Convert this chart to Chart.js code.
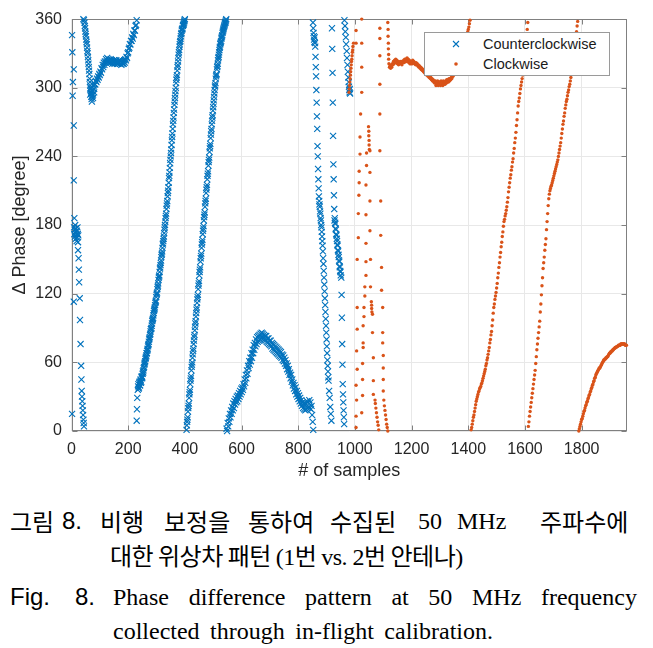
<!DOCTYPE html>
<html>
<head>
<meta charset="utf-8">
<script src="https://cdn.jsdelivr.net/npm/chart.js@4.4.0/dist/chart.umd.min.js"></script>
<style>
html,body{margin:0;padding:0;background:#fff;}
#wrap{position:relative;width:653px;height:648px;overflow:hidden;background:#fff;}
#chart{position:absolute;left:0;top:0;}
#legend{position:absolute;left:424px;top:32px;width:186px;height:44px;background:#fff;border:1px solid #9a9a9a;box-sizing:border-box;font-family:"Liberation Sans",Arial,sans-serif;font-size:14.5px;color:#1a1a1a;}
#legend .row{position:absolute;left:0;height:20px;line-height:20px;}
#legend svg{position:absolute;left:24px;top:3px;}
#legend span{position:absolute;left:58px;white-space:nowrap;}
.line{position:absolute;left:0;width:653px;height:34px;line-height:34px;color:#000;}
.line span{position:absolute;top:0;white-space:nowrap;}
.ko{font-family:"Noto Sans CJK KR","Noto Sans",sans-serif;font-size:24px;}
.se{font-family:"Liberation Serif","DejaVu Serif",serif;font-size:24px;}
.sn{font-family:"Liberation Sans Narrow","Liberation Sans",Arial,sans-serif;font-size:24px;}
.flex{position:absolute;top:0;display:flex;justify-content:space-between;white-space:nowrap;}
</style>
</head>
<body>
<div id="wrap">
  <canvas id="chart" width="653" height="490"></canvas>
  <div id="legend">
    <div class="row" style="top:1px;width:100%;">
      <svg width="14" height="14" viewBox="0 0 14 14"><path d="M4 4 L10 10 M10 4 L4 10" stroke="#0072BD" stroke-width="1.1" fill="none"/></svg>
      <span>Counterclockwise</span>
    </div>
    <div class="row" style="top:21px;width:100%;">
      <svg width="14" height="14" viewBox="0 0 14 14"><circle cx="7" cy="7" r="1.8" fill="#D95319"/></svg>
      <span>Clockwise</span>
    </div>
  </div>
  <div class="line" style="top:504px;">
    <span class="ko" style="left:10px;">그림</span>
    <span class="sn" style="left:62px;">8.</span>
    <span class="ko" style="left:100px;">비행</span>
    <span class="ko" style="left:164px;">보정을</span>
    <span class="ko" style="left:248px;">통하여</span>
    <span class="ko" style="left:330px;">수집된</span>
    <span class="se" style="left:418px;">50</span>
    <span class="se" style="left:457px;">MHz</span>
    <span class="ko" style="left:540px;">주파수에</span>
  </div>
  <div class="line" style="top:538px;">
    <span class="ko" style="left:110px;letter-spacing:-0.5px;">대한 위상차 패턴 <span class="se" style="position:static;">(1</span>번 <span class="se" style="position:static;">vs. 2</span>번 안테나<span class="se" style="position:static;">)</span></span>
  </div>
  <div class="line" style="top:580px;">
    <span class="sn" style="left:10px;">Fig.</span>
    <span class="sn" style="left:75px;">8.</span>
    <div class="flex se" style="left:113px;width:524px;"><span style="position:static">Phase</span><span style="position:static">difference</span><span style="position:static">pattern</span><span style="position:static">at</span><span style="position:static">50</span><span style="position:static">MHz</span><span style="position:static">frequency</span></div>
  </div>
  <div class="line" style="top:614px;">
    <div class="flex se" style="left:113px;width:380px;"><span style="position:static">collected</span><span style="position:static">through</span><span style="position:static">in-flight</span><span style="position:static">calibration.</span></div>
  </div>
</div>
<script>
// ---------------- DATA (samples, degrees) ----------------
const xTickValues = [0, 200, 400, 600, 800, 1000, 1200, 1400, 1600, 1800];
const yTickValues = [0, 60, 120, 180, 240, 300, 360];
const X_MAX = 1960;
const Y_MAX = 360;

// Counterclockwise (blue x)
const ccwNoise = [[2,346],[3,331],[8,316],[5,305],[4,293],[8,267],[8,219],[10,186],[2,15],[8,113]];
const ccwCluster = [[9,178],[10,172],[11,176],[12,170],[13,180],[14,174],[15,168],[16,177],[17,172],[18,166],[19,175],[20,169],[21,178],[22,172],[23,165],[24,171]];
const ccwDrop = [[23,158],[25,151],[26,141],[27,130],[29,116],[30,97],[32,76],[34,57],[35,45],[36,35],[37,30],[38,26],[39,22],[40,18],[41,14],[42,10],[43,7],[44,4]];
const ccwArm = [[42,360],[44,359],[46,357],[47,354],[48,352],[49,349],[50,347],[51,345],[52,342],[53,340],[54,338],[55,335],[56,332],[57,330],[58,327],[59,324],[60,321],[61,318],[62,315],[63,312],[64,308],[65,305],[66,302],[67,300],[68,297],[69,295],[70,292],[71,290],[66,294],[68,299],[70,295],[74,297],[76,291],[78,302],[80,296]];
// evenly read runs: [first sample, sample spacing]
const ccwPlateauRun = [72, 2];
const ccwPlateau = [288,293,294,299,299,303,303,306,305,308,307,310,309,312,311,314,313,317,316,320,318,322,320,323,322,325,323,326,323,325,322,324,322,325,322,324,321,323,322,324,321,323,322,324,321,323,321,323,322,324,321,323,320,322,321,323,321,324,322,325,324,327,326,330,331,334,335,338,338,341,341,344,343,347,346,350,350,354,355,359];
const ccwRise1Low = [[230,9],[231,19],[232,29]];
const ccwRise1Run = [234, 1];
const ccwRise1 = [36,39,41,37,38,42,43,40,40,44,45,42,43,47,48,46,47,50,52,51,53,55,56,58,59,60,61,63,64,65,66,68,68,70,71,72,74,75,76,78,80,81,82,84,85,87,89,89,90,92,94,96,97,98,99,101,103,105,106,107,108,110,112,113,114,117,119,120,121,124,126,127,129,132,134,135,136,139,142,143,145,147,149,152,154,155,157,160,163,164,166,168,170,173,176,178,180,183,186,188,190,194,197,199,201,205,208,210,213,217,221,223,226,230,234,237,240,243,246,250,254,257,260,264,268,271,274,278,281,285,288,291,294,297,300,304,307,309,311,315,318,320,323,326,329,331,333,336,338,340,341,343,345,347,348,350,351,351,352,354,355,355,356,357,358,359,360];
const ccwRise2Run = [406, 1];
const ccwRise2 = [1,5,8,10,12,17,20,22,24,29,32,34,36,41,44,46,48,53,56,58,60,64,67,70,72,76,79,82,84,88,91,94,96,100,103,106,108,112,115,117,119,124,127,129,131,136,139,141,143,148,151,153,155,160,163,165,167,172,175,177,179,184,187,189,191,196,199,201,203,208,211,213,215,220,223,225,227,232,235,237,239,244,247,249,251,256,259,262,264,268,271,274,276,280,283,286,289,292,295,298,301,302,304,308,310,311,312,316,318,319,321,324,326,327,329,331,333,335,336,338,339,340,341,343,344,345,346,348,349,350,351,352,353,354,355,356,357,357,358,359,360];
const ccwHumpRun = [547, 2];
const ccwHump = [2,0,7,4,11,8,15,12,18,15,21,18,24,20,26,23,28,25,30,26,31,28,33,30,35,32,37,34,38,36,41,39,45,42,49,46,53,50,57,55,61,58,64,61,68,64,71,68,75,71,77,74,80,76,82,78,83,79,84,80,85,81,86,82,85,81,84,80,83,79,83,78,81,77,81,76,79,75,79,74,77,72,76,71,75,70,74,69,73,68,72,67,71,66,70,65,69,64,67,62,66,61,64,59,62,57,59,54,57,52,54,49,51,46,49,43,45,40,42,37,40,35,38,32,35,30,33,28,31,26,29,24,27,22,25,20,24,19,23,18,24,19,26,20,25,21,27,20,25,19,22,14,8,1];
const ccwColA = [[852,357],[853,352],[854,348],[855,345],[856,342],[857,340],[858,344],[859,339],[860,336],[861,327],[862,318],[863,310],[864,298],[865,287],[866,275],[867,264],[868,249],[869,240],[870,229],[871,220],[872,212],[873,205],[874,201],[875,198],[876,196],[877,192],[878,190],[879,186],[880,184],[881,180],[882,178],[883,174],[884,170],[885,166],[886,162],[887,157],[888,151],[889,146],[890,140],[891,134],[892,128],[893,122],[894,116],[895,110],[896,104],[897,98],[898,92],[899,86],[900,80],[901,74],[902,68],[903,62],[904,57],[905,52],[906,47],[907,44],[909,35],[911,29],[913,21],[915,15],[917,9]];
const ccwColB = [[919,352],[920,334],[921,313],[922,287],[923,258],[924,233],[925,220],[926,206],[927,194],[928,184],[929,186],[930,182],[931,181],[932,177],[933,176],[934,172],[935,171],[936,168],[937,166],[938,163],[939,162],[940,158],[941,157],[942,154],[943,152],[944,149],[945,148],[946,144],[947,143],[948,140],[949,139],[950,136],[952,134],[953,119],[954,99],[955,76],[956,58],[957,41],[958,32],[959,25],[960,18],[961,12],[962,6]];
const ccwColC = [[963,359],[965,354],[966,349],[968,344],[969,338],[971,332],[972,326],[974,320],[975,314],[977,309],[978,305],[979,301],[980,298],[981,296],[982,299],[983,295]];

// Clockwise (orange dots)
const cwRise = [[979,296],[980,299],[981,302],[982,305],[983,308],[984,311],[985,314],[986,317],[987,320],[988,323],[989,325],[990,328],[991,331],[992,333],[993,336],[995,339]];
const cwScatter = [[1004,350],[1004,339],[1024,360],[1024,339],[1024,318],[1088,352],[1088,343],[1088,328],[1088,303],[1024,296],[1020,277],[1088,277],[1048,266],[1049,262],[1049,258],[1050,254],[1050,250],[1051,246],[1018,257],[1041,243],[1053,245],[1088,245],[1018,242],[1041,232],[1015,227],[1053,226],[1015,217],[1039,215],[1014,206],[1053,201],[1091,201],[1012,190],[1039,189],[1053,175],[1012,169],[1039,164],[1091,171],[1008,150],[1039,148],[1055,150],[1094,143],[1039,136],[1035,126],[1055,126],[1094,123],[1035,118],[1058,113],[1059,110],[1059,107],[1060,104],[1008,108],[1032,108],[1098,108],[1032,100],[1062,102],[1029,92],[1008,89],[1062,86],[1098,86],[1029,77],[1029,73],[1098,77],[1006,70],[1065,64],[1100,66],[1027,59],[1100,55],[1008,54],[1065,44],[1100,45],[1027,45],[1004,40],[1027,31],[1065,32],[1100,35],[1006,27],[1024,16],[1004,13],[1004,3],[1071,27],[1072,24],[1074,20],[1076,16],[1078,12],[1080,8],[1082,5],[1084,1],[1102,27],[1104,22],[1106,18],[1108,14],[1110,10],[1112,6],[1114,3],[1116,0]];
const cwFlatTop = [[1116,357],[1117,351],[1117,345],[1118,339],[1118,334],[1119,329],[1119,325]];
const cwFlatRun = [1120, 2];
const cwFlat = [321,318,319,317,320,318,321,320,323,321,324,322,325,322,324,321,323,320,322,321,323,321,323,320,322,322,324,322,325,323,325,323,326,323,325,322,324,321,323,321,323,321,324,322,323,321,322,320,322,320,321,319,320,318,319,317,318,316,317,315,316,314,315,313,314,312,313,311,312,310,311,309,310,308,309,307,308,306,307,305,306,304,306,302,305,303,306,302,305,303,305,302,306,303,305,302,306,303,305,303,306,304,307,305,307,305,308,306,308,307,309,308,310,310,312,312,314,314,316,316,318,318,320,321,323,324,326,327,329,331,332,334,336,337,339,341,343,345,347,349,351,353,356,359];
const cwSweep3Run = [1410, 2];
const cwSweep3 = [1,3,6,9,12,14,17,20,23,26,28,30,32,34,35,37,38,39,41,42,44,46,48,50,52,54,57,59,62,64,67,70,73,77,80,84,87,92,97,103,108,111,115,118,121,125,129,134,138,143,147,152,156,161,165,170,174,179,183,185,188,190,193,196,200,204,209,213,217,221,224,228,231,235,238,243,247,252,256,261,267,272,278,284,288,291,295,299,302,305,308,311,314,318,323,328,333,339,345,351,357];
const cwSweep4Run = [1612, 2];
const cwSweep4 = [4,8,13,17,21,25,29,33,37,41,45,49,53,59,65,71,76,81,86,91,96,104,111,119,127,134,142,147,152,158,163,168,176,183,190,197,203,207,210,212,214,215,217,219,221,223,225,227,229,231,233,235,237,240,243,246,249,252,256,260,264,268,271,275,278,282,285,288,290,293,296,298,301,303,306,309,312,315,319,323,327,332,336,341,345,349,354,358];
const cwSweep5Run = [1790, 2];
const cwSweep5 = [0,2,4,6,8,10,11,13,15,17,18,20,22,23,25,26,28,29,31,32,34,35,37,38,40,41,43,44,46,47,49,50,51,52,53,54,55,55,56,57,58,59,60,61,62,62,63,63,64,64,65,65,66,67,68,68,69,69,70,70,71,71,72,72,73,73,73,74,74,74,75,75,75,75,76,76,76,76,76,76,76,76,75,75,75];

// ---------------- build library tables ----------------
function pairPts(arr){ return arr.map(p => ({x:p[0], y:p[1]})); }
function runPts(run, ys){ return ys.map((v,i) => ({x:run[0] + run[1]*i, y:v})); }

const ccwData = [].concat(
  pairPts(ccwNoise), pairPts(ccwCluster), pairPts(ccwDrop), pairPts(ccwArm),
  runPts(ccwPlateauRun, ccwPlateau), pairPts(ccwRise1Low), runPts(ccwRise1Run, ccwRise1),
  runPts(ccwRise2Run, ccwRise2), runPts(ccwHumpRun, ccwHump),
  pairPts(ccwColA), pairPts(ccwColB), pairPts(ccwColC)
);
const cwData = [].concat(
  pairPts(cwRise), pairPts(cwScatter), pairPts(cwFlatTop), runPts(cwFlatRun, cwFlat),
  runPts(cwSweep3Run, cwSweep3), runPts(cwSweep4Run, cwSweep4), runPts(cwSweep5Run, cwSweep5)
);

const boxPlugin = {
  id: 'boxTicks',
  beforeDatasetsDraw(chart) {
    const {ctx, chartArea: a, scales: {x, y}} = chart;
    ctx.save();
    ctx.strokeStyle = '#808080';
    ctx.lineWidth = 1;
    const L = Math.round(a.left) + 0.5, R = Math.round(a.right) - 0.5;
    const T = Math.round(a.top) + 0.5, B = Math.round(a.bottom) - 0.5;
    ctx.strokeRect(L, T, R - L, B - T);
    ctx.beginPath();
    x.ticks.forEach(t => {
      const px = Math.round(x.getPixelForValue(t.value)) + 0.5;
      ctx.moveTo(px, B); ctx.lineTo(px, B - 5);
      ctx.moveTo(px, T); ctx.lineTo(px, T + 5);
    });
    y.ticks.forEach(t => {
      const py = Math.round(y.getPixelForValue(t.value)) + 0.5;
      ctx.moveTo(L, py); ctx.lineTo(L + 5, py);
      ctx.moveTo(R, py); ctx.lineTo(R - 5, py);
    });
    ctx.stroke();
    ctx.restore();
  }
};

const tickFont = {family: '"Liberation Sans", Arial, sans-serif', size: 16};
const titleFont = {family: '"Liberation Sans", Arial, sans-serif', size: 18};

new Chart(document.getElementById('chart'), {
  type: 'scatter',
  data: {
    datasets: [
      {label: 'Counterclockwise', data: ccwData, pointStyle: 'crossRot', pointRadius: 4.3,
       borderColor: '#0072BD', backgroundColor: '#0072BD', borderWidth: 1.1, clip: false, order: 2},
      {label: 'Clockwise', data: cwData, pointStyle: 'circle', pointRadius: 1.7,
       borderColor: '#D95319', backgroundColor: '#D95319', borderWidth: 0, clip: false, order: 1}
    ]
  },
  options: {
    responsive: false,
    animation: false,
    devicePixelRatio: 1,
    layout: {padding: {left: 0, top: 16, right: 26, bottom: 0}},
    plugins: {legend: {display: false}, tooltip: {enabled: false}},
    scales: {
      x: {
        type: 'linear', min: 0, max: X_MAX,
        afterFit(s) { s.height = 59; },
        afterBuildTicks(s) { s.ticks = xTickValues.map(v => ({value: v})); },
        border: {display: false},
        grid: {color: '#e8e8e8', drawTicks: false},
        ticks: {padding: 9, maxRotation: 0, autoSkip: false,
                color: '#262626', font: tickFont, callback: v => String(v)},
        title: {display: true, text: '# of samples', color: '#262626', font: titleFont,
                padding: {top: 0, bottom: 8}}
      },
      y: {
        type: 'linear', min: 0, max: Y_MAX,
        afterFit(s) { s.width = 71.5; },
        afterBuildTicks(s) { s.ticks = yTickValues.map(v => ({value: v})); },
        border: {display: false},
        grid: {color: '#e8e8e8', drawTicks: false},
        ticks: {padding: 9.5, autoSkip: false, color: '#262626', font: tickFont,
                callback: v => String(v)},
        title: {display: true, text: 'Δ Phase [degree]', color: '#262626', font: titleFont,
                padding: {top: 9, bottom: 0}}
      }
    }
  },
  plugins: [boxPlugin]
});
</script>
</body>
</html>
